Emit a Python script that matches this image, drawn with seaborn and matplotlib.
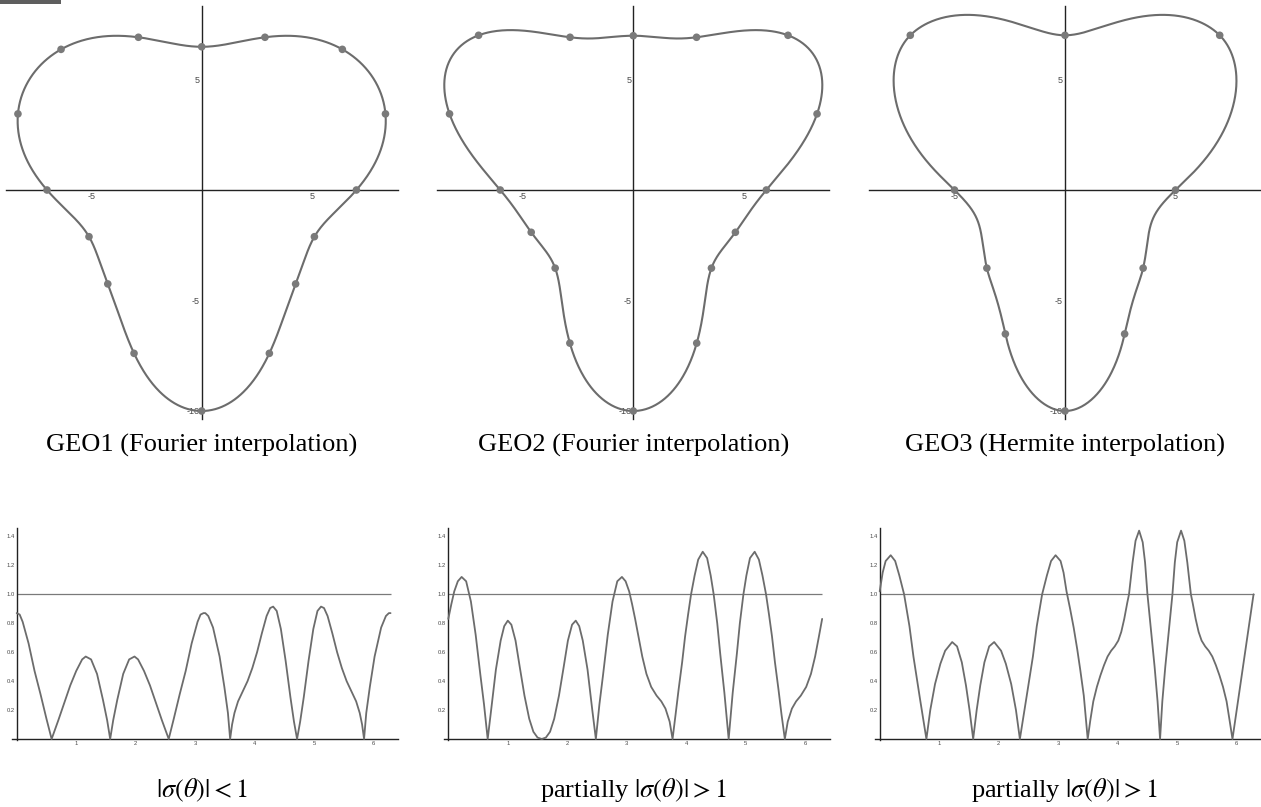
import numpy as np
import pandas as pd
import matplotlib
matplotlib.use("Agg")
import matplotlib.pyplot as plt
import seaborn as sns
from matplotlib.ticker import FixedLocator, NullFormatter, FixedFormatter
from matplotlib.patches import Rectangle

# ---------------------------------------------------------------------------
# Boundary nodes r(theta) of the three star-shaped geometries
# GEO1 / GEO2: 16 equally spaced angles theta_k = 2*pi*k/16
geo1_radius = [7.0, 9.0, 9.0, 7.48, 6.48, 7.48, 9.0, 9.0,
               7.0, 5.52, 6.01, 8.0, 10.0, 8.0, 6.01, 5.52]
geo2_radius = [6.02, 9.0, 9.9, 7.48, 6.98, 7.48, 9.9, 9.0,
               6.02, 5.0, 5.0, 7.5, 10.0, 7.5, 5.0, 5.0]
# GEO3: Hermite nodes, angle in units of pi/8, radius and dr/dtheta
geo3_angle_eighths = [0, 2, 4, 6, 8, 10, 11, 12, 13, 14]
geo3_radius = [5.0, 9.9, 7.0, 9.9, 5.0, 5.0, 7.05, 10.0, 7.05, 5.0]
geo3_slope = [5.1, 0.0, 0.0, 0.0, -5.0, 3.15, 10.0, 0.0, -10.0, -3.15]

# |sigma(theta)| for each geometry
sigma1_theta = [0, 0.05, 0.1, 0.2, 0.3, 0.4, 0.5, 0.587,
                0.7, 0.8, 0.9, 1.0, 1.1, 1.16, 1.25, 1.35, 1.45, 1.52, 1.571,
                1.622, 1.69, 1.79, 1.89, 1.98, 2.04, 2.14, 2.24, 2.34, 2.44, 2.555,
                2.64, 2.74, 2.84, 2.94, 3.04, 3.09, 3.14, 3.17, 3.22, 3.30, 3.41, 3.49, 3.55, 3.587,
                3.62, 3.66, 3.72, 3.80, 3.88, 3.96, 4.04, 4.12, 4.20, 4.26, 4.31, 4.37, 4.44, 4.52,
                4.60, 4.66, 4.712,
                4.764, 4.825, 4.905, 4.985, 5.055, 5.115, 5.165, 5.225, 5.305, 5.385, 5.465,
                5.545, 5.625, 5.705, 5.765, 5.805, 5.838,
                5.875, 5.935, 6.015, 6.125, 6.205, 6.255, 6.283]
sigma1_value = [0.87, 0.86, 0.81, 0.66, 0.47, 0.31, 0.14, 0.0,
                0.13, 0.25, 0.37, 0.47, 0.55, 0.57, 0.55, 0.45, 0.27, 0.13, 0.0,
                0.13, 0.27, 0.45, 0.55, 0.57, 0.55, 0.47, 0.37, 0.25, 0.13, 0.0,
                0.14, 0.31, 0.47, 0.66, 0.81, 0.86, 0.87, 0.87, 0.85, 0.77, 0.57, 0.36, 0.18, 0.0,
                0.10, 0.18, 0.26, 0.33, 0.40, 0.49, 0.60, 0.73, 0.85, 0.905, 0.915, 0.885, 0.76, 0.54,
                0.29, 0.12, 0.0,
                0.12, 0.29, 0.54, 0.76, 0.885, 0.915, 0.905, 0.85, 0.73, 0.60, 0.49,
                0.40, 0.33, 0.26, 0.18, 0.10, 0.0,
                0.18, 0.36, 0.57, 0.77, 0.85, 0.87, 0.87]

sigma2_theta = [0, 0.05, 0.1, 0.16, 0.224, 0.3, 0.38, 0.46, 0.54, 0.6, 0.662,
                0.72, 0.8, 0.88, 0.94, 1.0, 1.06, 1.13, 1.2, 1.28, 1.36, 1.43, 1.5, 1.571,
                1.64, 1.71, 1.78, 1.86, 1.94, 2.01, 2.08, 2.142, 2.2, 2.26, 2.34, 2.42, 2.48,
                2.54, 2.6, 2.68, 2.76, 2.84, 2.918, 2.98, 3.04, 3.09, 3.14,
                3.2, 3.26, 3.33, 3.41, 3.5, 3.58, 3.65, 3.72, 3.769,
                3.82, 3.87, 3.93, 3.98, 4.03, 4.08, 4.14, 4.2, 4.276, 4.35, 4.41, 4.46, 4.52,
                4.57, 4.64, 4.712,
                4.78, 4.85, 4.90, 4.96, 5.01, 5.07, 5.149, 5.22, 5.28, 5.34, 5.39, 5.44, 5.49,
                5.55, 5.60, 5.656,
                5.705, 5.775, 5.845, 5.925, 6.015, 6.095, 6.165, 6.225, 6.283]
sigma2_value = [0.83, 0.93, 1.02, 1.09, 1.12, 1.09, 0.95, 0.72, 0.44, 0.24, 0.0,
                0.2, 0.48, 0.68, 0.78, 0.818, 0.79, 0.68, 0.5, 0.3, 0.14, 0.05, 0.01, 0.0,
                0.01, 0.05, 0.14, 0.3, 0.5, 0.68, 0.79, 0.818, 0.78, 0.68, 0.48, 0.2, 0.0,
                0.24, 0.44, 0.72, 0.95, 1.09, 1.12, 1.09, 1.02, 0.93, 0.83,
                0.70, 0.57, 0.45, 0.36, 0.30, 0.26, 0.21, 0.12, 0.0,
                0.17, 0.34, 0.53, 0.71, 0.86, 1.0, 1.13, 1.24, 1.294, 1.25, 1.13, 1.0, 0.80,
                0.59, 0.32, 0.0,
                0.32, 0.59, 0.80, 1.0, 1.13, 1.25, 1.294, 1.24, 1.13, 1.0, 0.86, 0.71, 0.53,
                0.34, 0.17, 0.0,
                0.12, 0.21, 0.26, 0.30, 0.36, 0.45, 0.57, 0.70, 0.83]

sigma3_theta = [0, 0.05, 0.1, 0.185, 0.26, 0.33, 0.41, 0.5, 0.567, 0.68, 0.785,
                0.85, 0.93, 1.02, 1.1, 1.218, 1.3, 1.38, 1.45, 1.51, 1.571,
                1.63, 1.69, 1.76, 1.84, 1.924, 2.04, 2.12, 2.21, 2.29, 2.356,
                2.46, 2.575, 2.64, 2.73, 2.81, 2.88, 2.956, 3.04, 3.09, 3.14,
                3.2, 3.26, 3.32, 3.37, 3.43, 3.496,
                3.54, 3.59, 3.65, 3.71, 3.77, 3.83, 3.89, 3.95, 4.01, 4.06, 4.11, 4.16, 4.19,
                4.25, 4.30, 4.36, 4.42, 4.46, 4.50, 4.56, 4.62, 4.67, 4.712,
                4.75, 4.80, 4.86, 4.92, 4.96, 5.00, 5.065, 5.12, 5.17, 5.23, 5.26, 5.31, 5.36,
                5.41, 5.47, 5.53, 5.59, 5.65, 5.71, 5.77, 5.83, 5.88, 5.929,
                6.283]
sigma3_value = [1.02, 1.15, 1.23, 1.27, 1.23, 1.13, 1.0, 0.78, 0.57, 0.27, 0.0,
                0.2, 0.38, 0.52, 0.61, 0.67, 0.64, 0.53, 0.37, 0.2, 0.0,
                0.2, 0.37, 0.53, 0.64, 0.67, 0.61, 0.52, 0.38, 0.2, 0.0,
                0.27, 0.57, 0.78, 1.0, 1.13, 1.23, 1.27, 1.23, 1.15, 1.02,
                0.9, 0.77, 0.62, 0.48, 0.3, 0.0,
                0.13, 0.26, 0.36, 0.44, 0.51, 0.57, 0.61, 0.64, 0.68, 0.74, 0.83, 0.94, 1.0,
                1.22, 1.37, 1.44, 1.36, 1.22, 1.0, 0.75, 0.5, 0.26, 0.0,
                0.26, 0.5, 0.75, 1.0, 1.22, 1.36, 1.44, 1.37, 1.22, 1.0, 0.94, 0.83, 0.74,
                0.68, 0.64, 0.61, 0.57, 0.51, 0.44, 0.36, 0.26, 0.13, 0.0,
                1.0]

sigma_threshold = 1.0

geo_captions = ["GEO1 (Fourier interpolation)", "GEO2 (Fourier interpolation)",
                "GEO3 (Hermite interpolation)"]
sigma_captions = [r"$|\sigma(\theta)| < 1$", r"partially $|\sigma(\theta)| > 1$",
                  r"partially $|\sigma(\theta)| > 1$"]


# ---------------------------------------------------------------------------
def fourier_radius(values, theta):
    """Trigonometric interpolant through equally spaced samples."""
    v = np.asarray(values, dtype=float)
    n = len(v)
    c = np.fft.rfft(v) / n
    out = np.full_like(theta, c[0].real)
    for k in range(1, n // 2):
        out += 2.0 * (c[k].real * np.cos(k * theta) - c[k].imag * np.sin(k * theta))
    out += c[n // 2].real * np.cos((n // 2) * theta)
    return out


def hermite_radius(angles, radius, slope, theta):
    """Periodic piecewise cubic Hermite interpolant of r(theta)."""
    a = np.append(angles, angles[0] + 2 * np.pi)
    r = np.append(radius, radius[0])
    s = np.append(slope, slope[0])
    idx = np.clip(np.searchsorted(a, theta, side="right") - 1, 0, len(a) - 2)
    h = a[idx + 1] - a[idx]
    t = (theta - a[idx]) / h
    h00 = 2 * t**3 - 3 * t**2 + 1
    h10 = t**3 - 2 * t**2 + t
    h01 = -2 * t**3 + 3 * t**2
    h11 = t**3 - t**2
    return h00 * r[idx] + h10 * h * s[idx] + h01 * r[idx + 1] + h11 * h * s[idx + 1]


sns.set_style("white")
plt.rcParams.update({
    "font.family": ["Liberation Sans", "DejaVu Sans"],
    "mathtext.fontset": "stix",
    "axes.unicode_minus": False,
})

W, H = 1261, 807
fig = plt.figure(figsize=(W / 100, H / 100), dpi=100)
fig.patch.set_facecolor("white")

curve_color = "#6c6c6c"
node_color = "#7a7a7a"
axis_color = "#222222"
label_color = "#4a4a4a"


def cross_axes(ax, xmaj, xlab, xmin, ymaj, ylab, ymin, fs, major_len, minor_len, lw):
    for side in ("top", "right"):
        ax.spines[side].set_visible(False)
    for side in ("left", "bottom"):
        ax.spines[side].set_position(("data", 0))
        ax.spines[side].set_color(axis_color)
        ax.spines[side].set_linewidth(lw)
    ax.xaxis.set_major_locator(FixedLocator(xmaj))
    ax.xaxis.set_major_formatter(FixedFormatter(xlab))
    ax.xaxis.set_minor_locator(FixedLocator(xmin))
    ax.yaxis.set_major_locator(FixedLocator(ymaj))
    ax.yaxis.set_major_formatter(FixedFormatter(ylab))
    ax.yaxis.set_minor_locator(FixedLocator(ymin))
    ax.xaxis.set_minor_formatter(NullFormatter())
    ax.yaxis.set_minor_formatter(NullFormatter())
    ax.tick_params(which="both", direction="in", colors=axis_color, labelcolor=label_color,
                   labelsize=fs, width=0.7, pad=1.5)
    ax.tick_params(which="major", length=major_len)
    ax.tick_params(which="minor", length=minor_len)
    ax.set_xlabel("")
    ax.set_ylabel("")
    ax.grid(False)


# ---------------------------------------------------------------------------
# Top row: boundary curves
theta_fine = np.linspace(0, 2 * np.pi, 1200)
node_theta16 = 2 * np.pi * np.arange(16) / 16
geo3_theta = np.pi * np.asarray(geo3_angle_eighths, dtype=float) / 8

curves = [
    (fourier_radius(geo1_radius, theta_fine), node_theta16, np.asarray(geo1_radius)),
    (fourier_radius(geo2_radius, theta_fine), node_theta16, np.asarray(geo2_radius)),
    (hermite_radius(geo3_theta, np.asarray(geo3_radius), np.asarray(geo3_slope), theta_fine),
     geo3_theta, np.asarray(geo3_radius)),
]

top_origin_px = [201.7, 633.3, 1065.0]
scale_top = 22.1
xlim_top = (-8.87, 8.87)
ylim_top = (-10.38, 8.33)
top_px_y0 = 190.0 - ylim_top[1] * scale_top  # pixel row of top edge
for i, (r_curve, nth, nr) in enumerate(curves):
    left_px = top_origin_px[i] + xlim_top[0] * scale_top
    w_px = (xlim_top[1] - xlim_top[0]) * scale_top
    h_px = (ylim_top[1] - ylim_top[0]) * scale_top
    ax = fig.add_axes([left_px / W, 1 - (top_px_y0 + h_px) / H, w_px / W, h_px / H])
    df = pd.DataFrame({"x": r_curve * np.cos(theta_fine), "y": r_curve * np.sin(theta_fine)})
    sns.lineplot(data=df, x="x", y="y", sort=False, estimator=None, ax=ax,
                 color=curve_color, linewidth=1.5)
    nodes = pd.DataFrame({"x": nr * np.cos(nth), "y": nr * np.sin(nth)})
    sns.scatterplot(data=nodes, x="x", y="y", ax=ax, color=node_color, s=30,
                    edgecolor="none", zorder=4)
    ax.set_xlim(*xlim_top)
    ax.set_ylim(*ylim_top)
    cross_axes(ax, [-5, 5], ["-5", "5"], list(range(-8, 9)),
               [-10, -5, 5], ["-10", "-5", "5"], list(range(-10, 9)),
               fs=6.5, major_len=4.0, minor_len=2.6, lw=1.0)
    fig.text(top_origin_px[i] / W, 1 - 445 / H, geo_captions[i], ha="center", va="center",
             fontsize=19, family="Liberation Serif", color="black")

# ---------------------------------------------------------------------------
# Bottom row: |sigma(theta)|
sigma_sets = [(sigma1_theta, sigma1_value), (sigma2_theta, sigma2_value),
              (sigma3_theta, sigma3_value)]
bottom_origin_px = [16.7, 448.3, 879.7]
sx = 59.5
sy = 144.7
xlim_b = (-0.08, 6.41)
ylim_b = (-0.01, 1.46)
zero_row = 739.0
for i, (th, val) in enumerate(sigma_sets):
    left_px = bottom_origin_px[i] + xlim_b[0] * sx
    w_px = (xlim_b[1] - xlim_b[0]) * sx
    top_px = zero_row - ylim_b[1] * sy
    h_px = (ylim_b[1] - ylim_b[0]) * sy
    ax = fig.add_axes([left_px / W, 1 - (top_px + h_px) / H, w_px / W, h_px / H])
    ax.hlines(sigma_threshold, 0, 2 * np.pi, color="#7a7a7a", linewidth=0.9, zorder=2)
    sns.lineplot(x=th, y=val, sort=False, estimator=None, ax=ax,
                 color=curve_color, linewidth=1.3, zorder=3)
    ax.set_xlim(*xlim_b)
    ax.set_ylim(*ylim_b)
    xmaj = [1, 2, 3, 4, 5, 6]
    ymaj = [0.2, 0.4, 0.6, 0.8, 1.0, 1.2, 1.4]
    cross_axes(ax, xmaj, [str(v) for v in xmaj], list(np.arange(0.2, 6.3, 0.2)),
               ymaj, [f"{v:.1f}" for v in ymaj], list(np.arange(0.05, 1.45, 0.05)),
               fs=4.2, major_len=2.6, minor_len=1.6, lw=1.0)
    fig.text(bottom_origin_px[i] / W + (185 / W), 1 - 790 / H, sigma_captions[i],
             ha="center", va="center", fontsize=19, family="Liberation Serif", color="black")

# small header tab in the upper-left corner
fig.add_artist(Rectangle((0, 1 - 4 / H), 61 / W, 4 / H, transform=fig.transFigure,
                         facecolor="#5e5e5e", edgecolor="none"))

fig.savefig("out.png", dpi=100, facecolor="white")
